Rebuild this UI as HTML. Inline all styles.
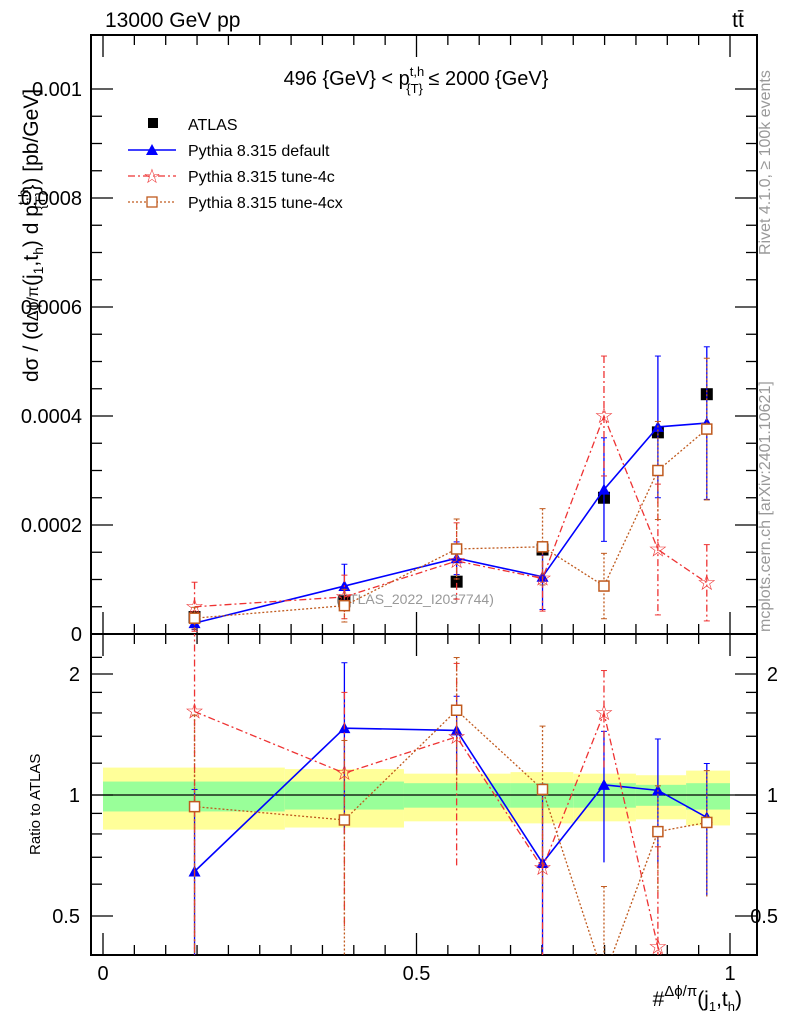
<!DOCTYPE html>
<html><head><meta charset="utf-8"><style>
html,body{margin:0;padding:0;background:#fff;overflow:hidden;width:786px;height:1024px;}
svg{display:block;font-family:"Liberation Sans",sans-serif;}
</style></head><body>
<svg id="c" width="786" height="1024" viewBox="0 0 786 1024">
<text x="105" y="27" font-size="21">13000 GeV pp</text>
<text x="738" y="27" font-size="21" text-anchor="middle">tt̄</text>
<text x="416" y="85" font-size="20" text-anchor="middle">496 {GeV} &lt; p<tspan font-size="13" dy="-9">t,h</tspan><tspan font-size="13" dx="-18" dy="17">{T}</tspan><tspan dy="-8"> ≤ 2000 {GeV}</tspan></text>
<text x="415" y="604" font-size="14" fill="#999" text-anchor="middle">(ATLAS_2022_I2037744)</text>
<text transform="translate(770,255) rotate(-90)" font-size="16" fill="#999">Rivet 4.1.0, ≥ 100k events</text>
<text transform="translate(770,632) rotate(-90)" font-size="16" fill="#999">mcplots.cern.ch [arXiv:2401.10621]</text>
<text transform="translate(38,382) rotate(-90)" font-size="21">dσ / (d<tspan font-size="16">Δϕ/π</tspan>(j<tspan font-size="14" dy="5">1</tspan><tspan dy="-5">,t</tspan><tspan font-size="14" dy="5">h</tspan><tspan dy="-5">) d p</tspan><tspan font-size="14" dy="-10">t,h</tspan><tspan font-size="14" dx="-20" dy="17">{T}</tspan><tspan dy="-7">}) [pb/GeV]</tspan></text>
<text transform="translate(40,855) rotate(-90)" font-size="15">Ratio to ATLAS</text>
<text x="742" y="1006" font-size="21" text-anchor="end">#<tspan font-size="15" dy="-10">Δϕ/π</tspan><tspan dy="10">(j</tspan><tspan font-size="13" dy="5">1</tspan><tspan dy="-5">,t</tspan><tspan font-size="13" dy="5">h</tspan><tspan dy="-5">)</tspan></text>
<g id="legend">
<rect x="148" y="118" width="10" height="10" fill="#000"/>
<text x="188" y="130" font-size="16">ATLAS</text>
<line x1="128" y1="150" x2="176" y2="150" stroke="#00f" stroke-width="1.5"/>
<path d="M146,155 L152,144 L158,155Z" fill="#00f"/>
<text x="188" y="156" font-size="16">Pythia 8.315 default</text>
<line x1="128" y1="176" x2="176" y2="176" stroke="#e33" stroke-width="1.3" stroke-dasharray="7,3,2,3"/>
<text x="152" y="183" font-size="20" fill="#e33" text-anchor="middle">☆</text>
<text x="188" y="182" font-size="16">Pythia 8.315 tune-4c</text>
<line x1="128" y1="202" x2="176" y2="202" stroke="#c05a1e" stroke-width="1.3" stroke-dasharray="2,2"/>
<rect x="147" y="197" width="10" height="10" fill="#fff" stroke="#c05a1e" stroke-width="1.3"/>
<text x="188" y="208" font-size="16">Pythia 8.315 tune-4cx</text>
</g>
<g id="plot"></g>
</svg>
<script>
const xCenters=[0.146,0.385,0.564,0.701,0.799,0.885,0.963];
const binEdges=[0,0.29,0.48,0.65,0.75,0.85,0.93,1.0];
const atlas=[0.000031,0.00006,0.000096,0.000155,0.00025,0.00037,0.00044];
const pyDefault=[0.00002,0.000088,0.000139,0.000105,0.000265,0.00038,0.000387];
const pyDefaultErr=[0.000012,0.00004,0.00003,0.00006,0.000095,0.00013,0.00014];
const py4c=[0.00005,0.000068,0.000134,0.000102,0.0004,0.000155,0.000094];
const py4cErr=[0.000045,0.00004,0.00007,0.00006,0.00011,0.00012,0.00007];
const py4cx=[0.000029,0.000052,0.000156,0.00016,0.000088,0.0003,0.000376];
const py4cxErr=[0.00002,0.00003,0.000055,0.00007,0.00006,0.00009,0.00013];
const bandYellowUp=[1.17,1.16,1.13,1.14,1.13,1.12,1.15];
const bandYellowDn=[0.82,0.83,0.86,0.85,0.86,0.87,0.84];
const bandGreenUp=[1.08,1.08,1.07,1.07,1.07,1.06,1.07];
const bandGreenDn=[0.91,0.92,0.93,0.93,0.93,0.94,0.92];
const mainTicks=[0,0.0002,0.0004,0.0006,0.0008,0.001];
const mainTickLabels=["0","0.0002","0.0004","0.0006","0.0008","0.001"];
const ratioTicks=[0.5,1,2];
const ratioTickLabels=["0.5","1","2"];
const xTicks=[0,0.5,1];
const xTickLabels=["0","0.5","1"];

const NS="http://www.w3.org/2000/svg";
const L=91,R=757,T=35,M=634,B=955;
const X=v=>103+v*627;
const Y=v=>634-v*545000;
const RY=r=>795-121*Math.log2(r);
const g=document.getElementById('plot');
function el(tag,attrs,parent){const e=document.createElementNS(NS,tag);for(const k in attrs)e.setAttribute(k,attrs[k]);(parent||g).appendChild(e);return e;}
const clipM=el('clipPath',{id:'cm'});el('rect',{x:L,y:T,width:R-L,height:M-T},clipM);
const clipR=el('clipPath',{id:'cr'});el('rect',{x:L,y:M,width:R-L,height:B-M},clipR);
for(let i=0;i<xCenters.length;i++){
 const x0=X(binEdges[i]),x1=X(binEdges[i+1]);
 const yb=el('rect',{x:x0,y:RY(bandYellowUp[i]),width:x1-x0,height:RY(bandYellowDn[i])-RY(bandYellowUp[i]),fill:'#ffff99'});
 
 
 const gb=el('rect',{x:x0,y:RY(bandGreenUp[i]),width:x1-x0,height:RY(bandGreenDn[i])-RY(bandGreenUp[i]),fill:'#99ff99'});
 
 
}
el('line',{x1:L,y1:RY(1),x2:R,y2:RY(1),stroke:'#000','stroke-width':1.3});
const f1=el('rect',{x:L,y:T,width:R-L,height:M-T,fill:'none',stroke:'#000','stroke-width':2});


const f2=el('rect',{x:L,y:M,width:R-L,height:B-M,fill:'none',stroke:'#000','stroke-width':2});


for(let v=0;v<=0.00105;v+=0.00005){const y=Y(v);if(y<T)continue;const major=Math.abs(v/0.0002-Math.round(v/0.0002))<1e-6;const len=major?22:11;
 el('line',{x1:L,y1:y,x2:L+len,y2:y,stroke:'#000','stroke-width':1.3});el('line',{x1:R,y1:y,x2:R-len,y2:y,stroke:'#000','stroke-width':1.3});}
mainTicks.forEach((v,i)=>{const t=el('text',{x:82,y:Y(v)+7,'font-size':20,'text-anchor':'end'});t.textContent=mainTickLabels[i];
 
 });
for(let k=0;k<=20;k++){const v=k*0.05;const x=X(v);const major=k%10==0;const len=major?22:10;
 [M,B].forEach(yb=>el('line',{x1:x,y1:yb,x2:x,y2:yb-len,stroke:'#000','stroke-width':1.3}));
 el('line',{x1:x,y1:T,x2:x,y2:T+len,stroke:'#000','stroke-width':1.3});
 el('line',{x1:x,y1:M,x2:x,y2:M+len,stroke:'#000','stroke-width':1.3});}
xTicks.forEach((v,i)=>{const t=el('text',{x:X(v),y:980,'font-size':20,'text-anchor':'middle'});t.textContent=xTickLabels[i];
 
 });
const rminor=[0.4,0.5,0.6,0.7,0.8,0.9,1,1.2,1.4,1.6,1.8,2,2.2];
rminor.forEach(r=>{const y=RY(r);if(y<M||y>B)return;const major=ratioTicks.includes(r);const len=major?22:11;
 el('line',{x1:L,y1:y,x2:L+len,y2:y,stroke:'#000','stroke-width':1.3});el('line',{x1:R,y1:y,x2:R-len,y2:y,stroke:'#000','stroke-width':1.3});});
ratioTicks.forEach((r,i)=>{[[80,'end'],[778,'end']].forEach(([x,a])=>{const t=el('text',{x:x,y:RY(r)+7,'font-size':20,'text-anchor':a});t.textContent=ratioTickLabels[i];
 
 });});
function marker(type,x,y,col,parent){
 if(type==='tri')return el('path',{d:`M${x-6},${y+5}L${x},${y-6}L${x+6},${y+5}Z`,fill:col},parent);
 if(type==='sq')return el('rect',{x:x-5,y:y-5,width:10,height:10,fill:'#fff',stroke:col,'stroke-width':1.5},parent);
 const t=el('text',{x:x,y:y+7,'font-size':22,fill:col,'text-anchor':'middle'},parent);t.textContent='☆';return t;
}
const series=[
 {name:'default',vals:pyDefault,err:pyDefaultErr,col:'#00f',dash:'',m:'tri',w:1.6},
 {name:'tune-4c',vals:py4c,err:py4cErr,col:'#e33',dash:'7,3,2,3',m:'star',w:1.3},
 {name:'tune-4cx',vals:py4cx,err:py4cxErr,col:'#c05a1e',dash:'2,2',m:'sq',w:1.3}];
const gm=el('g',{'clip-path':'url(#cm)'});
const gr=el('g',{'clip-path':'url(#cr)'});
atlas.forEach((v,i)=>{const r=el('rect',{x:X(xCenters[i])-6,y:Y(v)-6,width:12,height:12,fill:'#000'},gm);
 
 });
series.forEach(s=>{
 const pm=el('polyline',{points:s.vals.map((v,i)=>X(xCenters[i])+','+Y(v)).join(' '),fill:'none',stroke:s.col,'stroke-width':s.w,'stroke-dasharray':s.dash},gm);
 
 
 const pr=el('polyline',{points:s.vals.map((v,i)=>X(xCenters[i])+','+RY(v/atlas[i])).join(' '),fill:'none',stroke:s.col,'stroke-width':s.w,'stroke-dasharray':s.dash},gr);
 
 
 s.vals.forEach((v,i)=>{const x=X(xCenters[i]);
  const lo=Math.max(v-s.err[i],1e-9),hi=v+s.err[i];
  el('line',{x1:x,y1:Y(hi),x2:x,y2:Y(lo),stroke:s.col,'stroke-width':1.3,'stroke-dasharray':s.dash},gm);
  el('line',{x1:x-3,y1:Y(hi),x2:x+3,y2:Y(hi),stroke:s.col},gm);el('line',{x1:x-3,y1:Y(lo),x2:x+3,y2:Y(lo),stroke:s.col},gm);
  const mk=marker(s.m,x,Y(v),s.col,gm);
  
  
  const a=atlas[i];
  el('line',{x1:x,y1:RY(hi/a),x2:x,y2:RY(lo/a),stroke:s.col,'stroke-width':1.3,'stroke-dasharray':s.dash},gr);
  el('line',{x1:x-3,y1:RY(hi/a),x2:x+3,y2:RY(hi/a),stroke:s.col},gr);
  const rm=marker(s.m,x,RY(v/a),s.col,gr);
  
  
 });
});
</script>
</body></html>
